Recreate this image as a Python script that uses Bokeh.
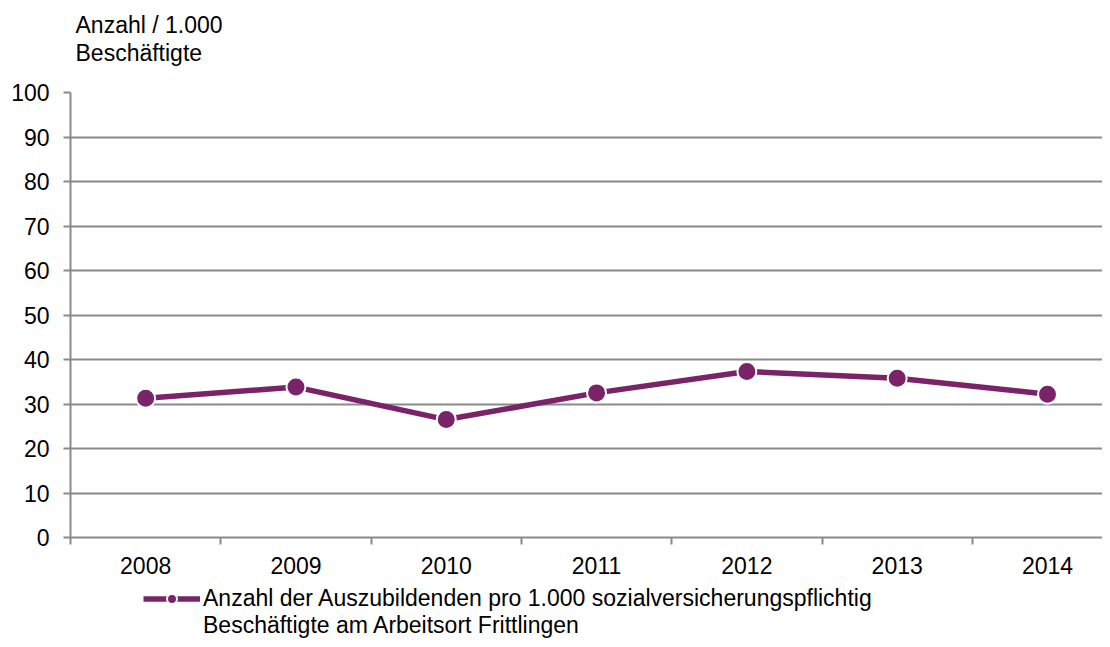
from bokeh.plotting import figure
from bokeh.layouts import column
from bokeh.models import FixedTicker, Label, Legend, LegendItem, Range1d
from bokeh.embed import file_html
from bokeh.resources import INLINE

years = ["2008", "2009", "2010", "2011", "2012", "2013", "2014"]
values = [31.3, 33.8, 26.5, 32.5, 37.3, 35.8, 32.2]
y_ticks = [0, 10, 20, 30, 40, 50, 60, 70, 80, 90, 100]
y_title = ["Anzahl / 1.000", "Beschäftigte"]
legend_lines = ["Anzahl der Auszubildenden pro 1.000 sozialversicherungspflichtig",
                "Beschäftigte am Arbeitsort Frittlingen"]

FONT = "Liberation Sans"
FS = "23px"
PURPLE = "#7b2368"
GRAY = "#8a8a8a"

W = 1102
LEFT = 70
H_TOP = 70
H_MAIN = 513
H_LEG = 56

xs = [i + 0.5 for i in range(len(years))]


def strip(height):
    # frames of a column are aligned with the main chart's frame (x from LEFT to W)
    f = figure(width=W, height=height, output_backend="svg", toolbar_location=None,
               x_range=Range1d(0, W - LEFT), y_range=Range1d(0, height),
               x_axis_type=None, y_axis_type=None, min_border=0)
    f.outline_line_color = None
    f.background_fill_color = "white"
    f.border_fill_color = "white"
    return f


# title strip (y-axis title)
p0 = strip(H_TOP)
for i, t in enumerate(y_title):
    p0.add_layout(Label(x=5, y=H_TOP - 24 - 28 * i, text=t,
                        text_baseline="middle", text_align="left",
                        text_font=FONT, text_font_size=FS, text_color="black"))

# main chart
p = figure(width=W, height=H_MAIN, output_backend="svg", toolbar_location=None,
           x_range=Range1d(0, 6.866), y_range=Range1d(0, 100),
           min_border_left=LEFT, min_border_right=0, min_border_top=22,
           min_border_bottom=46)
p.outline_line_color = None
p.background_fill_color = "white"
p.border_fill_color = "white"

p.xaxis.ticker = FixedTicker(ticks=xs, minor_ticks=list(range(len(years) + 1)))
p.xaxis.major_label_overrides = {x: y for x, y in zip(xs, years)}
p.xaxis.major_tick_out = 0
p.xaxis.major_tick_in = 0
p.xaxis.minor_tick_out = 7
p.xaxis.minor_tick_in = 0
p.xaxis.minor_tick_line_color = GRAY
p.xaxis.minor_tick_line_width = 2
p.xaxis.axis_line_color = GRAY
p.xaxis.axis_line_width = 2
p.xaxis.major_label_standoff = 12

p.yaxis.ticker = FixedTicker(ticks=y_ticks)
p.yaxis.major_tick_out = 7
p.yaxis.major_tick_in = 0
p.yaxis.minor_tick_out = 0
p.yaxis.minor_tick_in = 0
p.yaxis.major_tick_line_color = GRAY
p.yaxis.major_tick_line_width = 2
p.yaxis.axis_line_color = GRAY
p.yaxis.axis_line_width = 2
p.yaxis.major_label_standoff = 14

for ax in (p.xaxis, p.yaxis):
    ax.major_label_text_font = FONT
    ax.major_label_text_font_size = FS
    ax.major_label_text_color = "black"

p.xgrid.grid_line_color = None
p.ygrid.ticker = FixedTicker(ticks=y_ticks)
p.ygrid.grid_line_color = GRAY
p.ygrid.grid_line_width = 2

p.line(xs, values, line_color=PURPLE, line_width=5.5)
p.scatter(xs, values, marker="circle", size=19, fill_color=PURPLE,
          line_color="white", line_width=2)

# legend strip
p2 = strip(H_LEG)
nan = float("nan")
leg_line = p2.line([nan, nan], [nan, nan], line_color=PURPLE, line_width=5.5)
leg_pt = p2.scatter([nan], [nan], marker="circle", size=13, fill_color=PURPLE,
                    line_color="white", line_width=2)
legend = Legend(items=[LegendItem(label=legend_lines[0], renderers=[leg_line, leg_pt]),
                       LegendItem(label=legend_lines[1], renderers=[])],
                location=(73, 0), glyph_width=57, glyph_height=25, label_standoff=3,
                padding=0, margin=0, spacing=0, border_line_color=None,
                background_fill_alpha=0,
                label_text_font=FONT, label_text_font_size=FS, label_text_color="black",
                label_height=25)
p2.add_layout(legend, "center")

layout = column(p0, p, p2, spacing=0)
open("out.html", "w").write(file_html(layout, INLINE))
